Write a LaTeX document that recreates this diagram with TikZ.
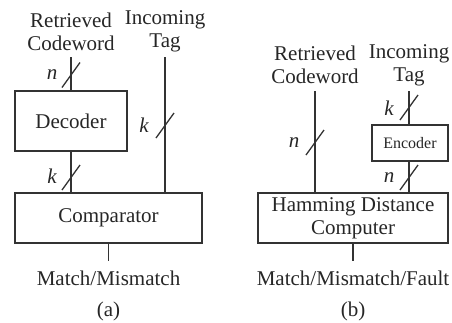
\documentclass[tikz,border=0pt]{standalone}
\usepackage{fontspec}
\setmainfont{Liberation Serif}
\begin{document}
\begin{tikzpicture}[x=1pt,y=-1pt,
  every node/.style={inner sep=0pt, outer sep=0pt, text=black!85},
  blk/.style={draw=black!80, line width=1.3pt, minimum width=#1},
  wire/.style={draw=black!80, line width=1.3pt},
  lbl/.style={font=\fontsize{21}{24}\selectfont},
  hdr/.style={font=\fontsize{21}{23}\selectfont, align=center},
  var/.style={font=\fontsize{21}{24}\selectfont\itshape}]
\useasboundingbox (0,0) rectangle (452,322);
% ---------- (a)
\node[hdr] (hRa) at (71,31.5) {Retrieved\\Codeword};
\node[hdr] (hTa) at (165,31.5) {Incoming\\Tag};
\coordinate (sRa) at (71,57);
\coordinate (sTa) at (165,57);
\node[blk=112pt, minimum height=60pt, lbl] (dec) at (71,121) {Decoder};
\node[blk=187pt, minimum height=50pt, lbl] (cmp) at (108.5,218) {Comparator};
\node[lbl, inner ysep=10pt] (outa) at (108.5,278) {Match/Mismatch};
\node[lbl] (capa) at (108.5,311) {(a)};
\draw[wire] (sRa) -- (dec.north);
\draw[wire] (sTa) -- (sTa |- cmp.north);
\draw[wire] (dec.south) -- (dec.south |- cmp.north);
\draw[wire] (cmp.south) -- (outa.north);
% bus marks
\draw[wire] (71,74.5) ++(-9,13) -- ++(18,-25);
\node[var] (na) at (52,75) {n};
\draw[wire] (165,125) ++(-9,13) -- ++(18,-25);
\node[var] (ka) at (144,125) {k};
\draw[wire] (71,177) ++(-9,13) -- ++(18,-25);
\node[var] (kb) at (52,176) {k};
% ---------- (b)
\node[hdr] (hRb) at (315,65) {Retrieved\\Codeword};
\node[hdr] (hTb) at (409,65) {Incoming\\Tag};
\coordinate (sRb) at (315,91);
\coordinate (sTb) at (409,91);
\node[blk=76pt, minimum height=36pt, font=\fontsize{16}{18}\selectfont] (enc) at (410,143) {Encoder};
\node[blk=190pt, minimum height=50pt, hdr] (hdc) at (353,218) {Hamming Distance\\Computer};
\node[lbl, inner ysep=10pt] (outb) at (353,278) {Match/Mismatch/Fault};
\node[lbl] (capb) at (353,311) {(b)};
\draw[wire] (sRb) -- (sRb |- hdc.north);
\draw[wire] (sTb) -- (sTb |- enc.north);
\draw[wire] (sTb |- enc.south) -- (sTb |- hdc.north);
\draw[wire] (hdc.south) -- (outb.north);
\draw[wire] (315,142) ++(-9,13) -- ++(18,-25);
\node[var] (nb) at (294,143) {n};
\draw[wire] (409,107) ++(-9,13) -- ++(18,-25);
\node[var] (kc) at (389,108) {k};
\draw[wire] (409,177) ++(-9,13) -- ++(18,-25);
\node[var] (nc) at (389,178) {n};
\end{tikzpicture}
\end{document}
